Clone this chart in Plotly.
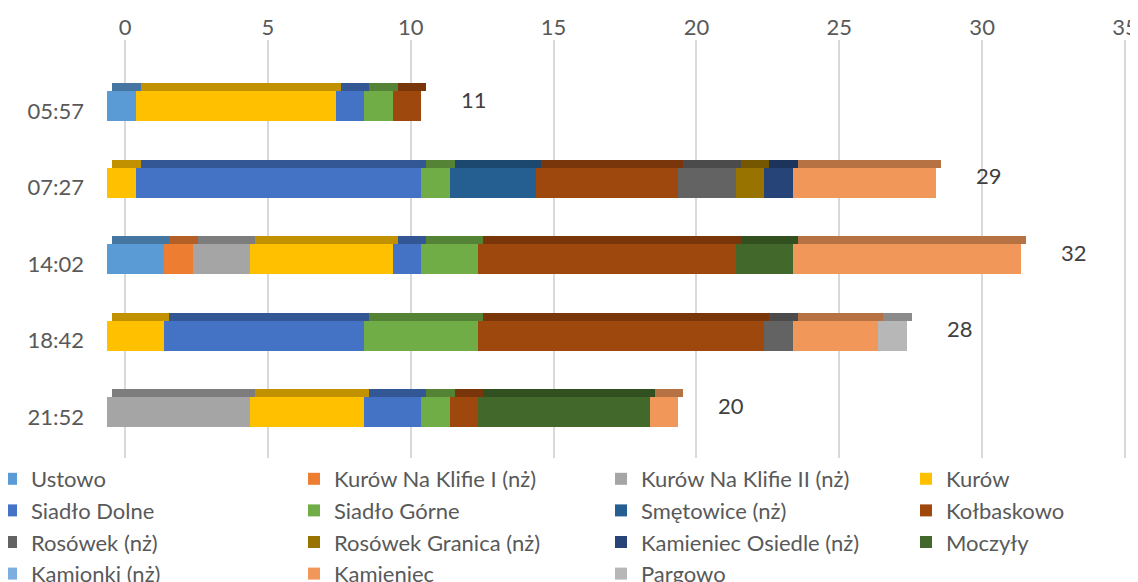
import plotly.graph_objects as go

times = ["05:57", "07:27", "14:02", "18:42", "21:52"]
series_names = [
    "Ustowo", "Kurów Na Klifie I (nż)", "Kurów Na Klifie II (nż)", "Kurów",
    "Siadło Dolne", "Siadło Górne", "Smętowice (nż)", "Kołbaskowo",
    "Rosówek (nż)", "Rosówek Granica (nż)", "Kamieniec Osiedle (nż)", "Moczyły",
    "Kamionki (nż)", "Kamieniec", "Pargowo",
]
ustowo = [1, 0, 2, 0, 0]
kurow_klif1 = [0, 0, 1, 0, 0]
kurow_klif2 = [0, 0, 2, 0, 5]
kurow = [7, 1, 5, 2, 4]
siadlo_dolne = [1, 10, 1, 7, 2]
siadlo_gorne = [1, 1, 2, 4, 1]
smetowice = [0, 3, 0, 0, 0]
kolbaskowo = [1, 5, 9, 10, 1]
rosowek = [0, 2, 0, 1, 0]
rosowek_granica = [0, 1, 0, 0, 0]
kamieniec_osiedle = [0, 1, 0, 0, 0]
moczyly = [0, 0, 2, 0, 6]
kamionki = [0, 0, 0, 0, 0]
kamieniec = [0, 5, 8, 3, 1]
pargowo = [0, 0, 0, 1, 0]

series_values = [ustowo, kurow_klif1, kurow_klif2, kurow, siadlo_dolne, siadlo_gorne,
                 smetowice, kolbaskowo, rosowek, rosowek_granica, kamieniec_osiedle,
                 moczyly, kamionki, kamieniec, pargowo]
colors = ["#5B9BD5", "#ED7D31", "#A5A5A5", "#FFC000", "#4472C4", "#70AD47",
          "#255E91", "#9E480E", "#636363", "#997300", "#264478", "#43682B",
          "#7CAFDD", "#F1975A", "#B7B7B7"]
totals = [sum(v[i] for v in series_values) for i in range(len(times))]
xticks = [0, 5, 10, 15, 20, 25, 30, 35]


def darken(hexc, f=0.76):
    h = hexc.lstrip("#")
    r, g, b = (int(h[i:i + 2], 16) for i in (0, 2, 4))
    return "#%02X%02X%02X" % (int(r * f), int(g * f), int(b * f))


FONT = "Lato"
TXT = "#595959"
FS = 22
cat_idx = list(range(len(times)))
px_per_row = 76.5
front_w = 30 / px_per_row
front_off = -20 / px_per_row
top_w = 8 / px_per_row
top_off = -28 / px_per_row

# page offset (body margin) of the figure
OX, OY = 8, 8
L, R, T, B = 95 - OX, 8, 40 - OY, 124 + OY
W = 1138 - L - R
H = 582 - T - B
ppu = 1000 / 35.0
x0_front = 107 - OX
x0_top = 112 - OX
x0_lab = 125 - OX

fig = go.Figure()
# front faces (main x axis)
for k, (name, vals, col) in enumerate(zip(series_names, series_values, colors)):
    fig.add_trace(go.Bar(
        x=vals, y=cat_idx, orientation="h", name=name,
        marker=dict(color=col, line=dict(width=0)),
        width=front_w, offset=front_off, xaxis="x", yaxis="y",
        legend="legend" if k % 4 == 0 else "legend%d" % (k % 4 + 1),
    ))
# top faces (3D look)
for name, vals, col in zip(series_names, series_values, colors):
    fig.add_trace(go.Bar(
        x=vals, y=cat_idx, orientation="h", name=name, showlegend=False,
        marker=dict(color=darken(col), line=dict(width=0)),
        width=top_w, offset=top_off, xaxis="x3", yaxis="y", hoverinfo="skip",
    ))
# empty trace to carry the labelled top axis
fig.add_trace(go.Scatter(x=[None], y=[None], xaxis="x2", yaxis="y",
                         showlegend=False, hoverinfo="skip"))

for i, t in enumerate(totals):
    fig.add_annotation(x=t, y=i, xref="x", yref="y", text=str(t), showarrow=False,
                       xanchor="left", xshift=38, yshift=12,
                       font=dict(family=FONT, size=FS, color="#404040"))

leg_common = dict(orientation="v", xanchor="left", y=0, yanchor="top",
                  font=dict(family=FONT, size=FS, color=TXT), bgcolor="rgba(0,0,0,0)",
                  traceorder="normal")
leg_x_px = [-9 - OX, 294 - OX, 601 - OX, 906 - OX]

fig.update_layout(
    width=1138, height=582,
    margin=dict(l=L, r=R, t=T, b=B, autoexpand=False),
    paper_bgcolor="white", plot_bgcolor="white",
    barmode="stack",
    font=dict(family=FONT, size=FS, color=TXT),
    xaxis=dict(range=[(L - x0_front) / ppu, (L + W - x0_front) / ppu],
               visible=False, showgrid=False, zeroline=False),
    xaxis2=dict(overlaying="x", side="top",
                range=[(L - x0_lab) / ppu, (L + W - x0_lab) / ppu],
                tickvals=xticks, ticktext=[str(v) for v in xticks],
                showgrid=True, gridcolor="#D9D9D9", gridwidth=2,
                zeroline=False, showline=False, ticks="",
                tickfont=dict(family=FONT, size=FS, color=TXT)),
    xaxis3=dict(overlaying="x", range=[(L - x0_top) / ppu, (L + W - x0_top) / ppu],
                visible=False, showgrid=False, zeroline=False),
    yaxis=dict(range=[4 + 41 / px_per_row, -71 / px_per_row],
               tickvals=cat_idx, ticktext=times, showgrid=False, zeroline=False,
               ticks="", ticklabelstandoff=10,
               tickfont=dict(family=FONT, size=FS, color=TXT)),
    legend=dict(x=(leg_x_px[0] - L) / W, **leg_common),
    legend2=dict(x=(leg_x_px[1] - L) / W, **leg_common),
    legend3=dict(x=(leg_x_px[2] - L) / W, **leg_common),
    legend4=dict(x=(leg_x_px[3] - L) / W, **leg_common),
    showlegend=True,
)

fig.write_html("out.html")
